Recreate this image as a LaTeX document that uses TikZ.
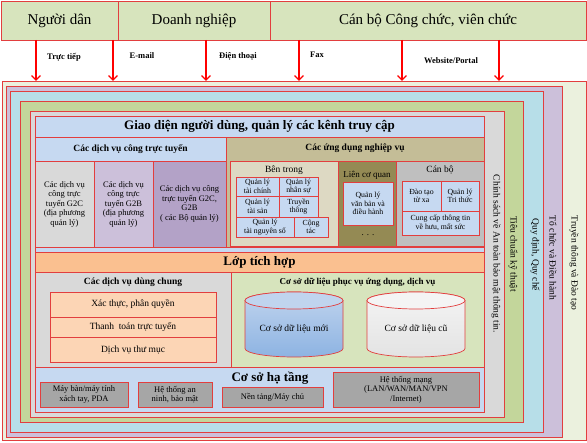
\documentclass[tikz,border=0pt]{standalone}
\usepackage{fontspec}
\setmainfont{Liberation Serif}
\usepackage{tikz}
\usetikzlibrary{arrows.meta}

\definecolor{linered}{RGB}{226,62,62}
\definecolor{topgreen}{HTML}{D7E4BD}
\definecolor{cream}{HTML}{EBF1DE}
\definecolor{orgpurple}{HTML}{CCC0DA}
\definecolor{rulecyan}{HTML}{B7DEE8}
\definecolor{stdgreen}{HTML}{C3D69B}
\definecolor{secgray}{HTML}{D9D9D9}
\definecolor{uiblue}{HTML}{C6D9F1}
\definecolor{khaki}{HTML}{C4BD97}
\definecolor{beige}{HTML}{DDD9C3}
\definecolor{olive}{HTML}{948A54}
\definecolor{cbgray}{HTML}{BFBFBF}
\definecolor{intorange}{HTML}{FAC090}
\definecolor{peach}{HTML}{FCD5B5}
\definecolor{dbgreen}{HTML}{D7E4BD}
\definecolor{gbpurple}{HTML}{B3A2C7}
\definecolor{infgray}{HTML}{A6A6A6}
\definecolor{dbnew}{HTML}{8DB3E2}
\definecolor{dbnewtop}{HTML}{C0D4EE}
\definecolor{dbold}{HTML}{E3E3E3}
\definecolor{dboldtop}{HTML}{F4F4F4}

\begin{document}
\begin{tikzpicture}[x=1pt,y=-1pt,
  box/.style={draw=linered, line width=0.7pt, anchor=north west, inner sep=0pt, outer sep=0pt, align=center},
  frame/.style={box, line width=0.9pt},
  side/.style={rotate=-90, inner sep=0pt, font=\fontsize{9.5}{11}\selectfont},
  ttl/.style={inner sep=0pt, font=\bfseries\fontsize{9.5}{11}\selectfont},
  sub/.style={inner sep=0pt, font=\fontsize{9.5}{11}\selectfont},
  small/.style={font=\fontsize{8.5}{9.5}\selectfont},
  tiny/.style={font=\fontsize{7.8}{8.6}\selectfont},
  big/.style={font=\bfseries\fontsize{13}{15}\selectfont},
  head/.style={font=\fontsize{15}{18}\selectfont},
  chan/.style={inner sep=0pt, font=\bfseries\fontsize{8.5}{10}\selectfont},
  arr/.style={draw=red, line width=1.3pt, -{Straight Barb[length=4.5pt,width=9pt]}},
]
\useasboundingbox (0,0) rectangle (587,443);

% actors
\node[box, head, fill=topgreen, minimum width=117, minimum height=39] (dan) at (1,1) {Người dân};
\node[box, head, fill=topgreen, minimum width=152, minimum height=39] (dn) at (118,1) {Doanh nghiệp};
\node[box, head, fill=topgreen, minimum width=316, minimum height=39] (cbcc) at (270,1) {Cán bộ Công chức, viên chức};

% nested frames
\node[frame, fill=cream, minimum width=584, minimum height=359] (fOuter) at (2,81) {};
\node[frame, fill=orgpurple, minimum width=556, minimum height=351] (fOrg) at (6,86) {};
\node[frame, fill=rulecyan, minimum width=533, minimum height=341] (fRule) at (10,91) {};
\node[frame, fill=stdgreen, minimum width=503, minimum height=321] (fStd) at (20,101) {};
\node[frame, fill=secgray, minimum width=474, minimum height=306] (fSec) at (30,111) {};
\node[frame, fill=uiblue, minimum width=449, minimum height=296] (core) at (35,116) {};

\node[side] (lTrain) at (574,263) {Truyền thông và Đào tạo};
\node[side] (lOrg) at (553,258) {Tổ chức và Điều hành};
\node[side] (lRule) at (535,255) {Quy định, Quy chế};
\node[side] (lStd) at (513,254) {Tiêu chuẩn kỹ thuật};
\node[side] (lSec) at (496,254) {Chính sách về An toàn bảo mật thông tin.};

% channels
\foreach \n/\x in {c1/36, c2/113, c3/206, c4/299, c5/402, c6/499} {
  \coordinate (\n) at (\x,40);
  \draw[arr] (\n) -- (\n |- fOuter.north);
}
\node[chan] (chDirect) at (64,57) {Trực tiếp};
\node[chan] (chMail) at (142,56) {E-mail};
\node[chan] (chPhone) at (238,56) {Điện thoại};
\node[chan] (chFax) at (317,55) {Fax};
\node[chan] (chWeb) at (451,61) {Website/Portal};

% user interface
\node[box, big, fill=uiblue, minimum width=449, minimum height=21] (ui) at (35,116) {Giao diện người dùng, quản lý các kênh truy cập};
\node[box, ttl, fill=uiblue, minimum width=191, minimum height=24] (dvc) at (35,137) {Các dịch vụ công trực tuyến};
\node[box, small, fill=secgray, minimum width=59, minimum height=86] (g2c) at (35,161) {Các dịch vụ\\công trực\\tuyến G2C\\(địa phương\\quản lý)};
\node[box, small, fill=orgpurple, minimum width=59, minimum height=86] (g2b) at (94,161) {Các dịch vụ\\công trực\\tuyến G2B\\(địa phương\\quản lý)};
\node[box, small, fill=gbpurple, minimum width=73, minimum height=86] (g2cb) at (153,161) {Các dịch vụ công\\trực tuyến G2C,\\G2B\\( các Bộ quản lý)};

% business applications
\node[box, fill=khaki, minimum width=258, minimum height=110] (app) at (226,137) {};
\node[ttl] (appT) at ([yshift=-11pt]app.north) {Các ứng dụng nghiệp vụ};
\node[box, fill=beige, minimum width=108, minimum height=85] (inside) at (230,161) {};
\node[sub] (insideT) at ([yshift=-9pt]inside.north) {Bên trong};
\node[box, tiny, fill=uiblue, minimum width=43, minimum height=19] (qlTc) at (236,177) {Quản lý\\tài chính};
\node[box, tiny, fill=uiblue, minimum width=39, minimum height=19] (qlNs) at (279,177) {Quản lý\\nhân sự};
\node[box, tiny, fill=uiblue, minimum width=43, minimum height=21] (qlTs) at (236,196) {Quản lý\\tài sản};
\node[box, tiny, fill=uiblue, minimum width=39, minimum height=21] (media) at (279,196) {Truyền\\thông};
\node[box, tiny, fill=uiblue, minimum width=58, minimum height=20] (qlTn) at (236,217) {Quản lý\\tài nguyên số};
\node[box, tiny, fill=uiblue, minimum width=34, minimum height=20] (coop) at (294,217) {Cộng\\tác};

\node[box, fill=olive, minimum width=58, minimum height=85] (inter) at (338,161) {};
\node[sub, font=\fontsize{9}{11}\selectfont] (interT) at ([yshift=-14pt]inter.north) {Liên cơ quan};
\node[box, tiny, fill=uiblue, minimum width=50, minimum height=43] (docs) at (343,182) {Quản lý\\văn bản và\\điều hành};
\node[inner sep=0pt, font=\fontsize{9}{11}\selectfont] (more) at ([yshift=-10pt]docs.south) {. . .};

\node[box, fill=cbgray, minimum width=88, minimum height=85] (staff) at (396,161) {};
\node[sub] (staffT) at ([yshift=-9pt]staff.north) {Cán bộ};
\node[box, tiny, fill=uiblue, minimum width=39, minimum height=30] (elearn) at (402,181) {Đào tạo\\từ xa};
\node[box, tiny, fill=uiblue, minimum width=38, minimum height=30] (know) at (441,181) {Quản lý\\Tri thức};
\node[box, tiny, fill=uiblue, minimum width=77, minimum height=24] (pension) at (402,211) {Cung cấp thông tin\\về hưu, mất sức};

% integration
\node[box, big, fill=intorange, minimum width=449, minimum height=20] (integ) at (35,252) {Lớp tích hợp};

% shared services
\node[box, fill=secgray, minimum width=196, minimum height=95] (shared) at (35,272) {};
\node[ttl] (sharedT) at ([yshift=-10pt]shared.north) {Các dịch vụ dùng chung};
\node[box, sub, fill=peach, minimum width=166, minimum height=25] (auth) at (50,292) {Xác thực, phân quyền};
\node[box, sub, fill=peach, minimum width=166, minimum height=20] (pay) at (50,317) {Thanh\ \ toán trực tuyến};
\node[box, sub, fill=peach, minimum width=166, minimum height=25] (dir) at (50,337) {Dịch vụ thư mục};

% databases
\node[box, fill=dbgreen, minimum width=253, minimum height=95] (data) at (231,272) {};
\node[ttl, font=\bfseries\fontsize{9}{11}\selectfont] (dataT) at ([yshift=-10pt]data.north) {Cơ sở dữ liệu phục vụ ứng dụng, dịch vụ};
\shade[top color=dbnewtop, bottom color=dbnew, draw=linered, line width=0.7pt]
  (245,300.5) -- (245,348.5) arc[start angle=180, end angle=0, x radius=49, y radius=8.5]
  -- (343,300.5) arc[start angle=0, end angle=-180, x radius=49, y radius=8.5] -- cycle;
\filldraw[fill=dbnewtop, draw=linered, line width=0.7pt] (294,300.5) ellipse[x radius=49, y radius=8.5];
\shade[top color=dboldtop, bottom color=dbold, draw=linered, line width=0.7pt]
  (367,300.5) -- (367,348.5) arc[start angle=180, end angle=0, x radius=49, y radius=8.5]
  -- (465,300.5) arc[start angle=0, end angle=-180, x radius=49, y radius=8.5] -- cycle;
\filldraw[fill=dboldtop, draw=linered, line width=0.7pt] (416,300.5) ellipse[x radius=49, y radius=8.5];
\node[sub] (dbNew) at (294,329) {Cơ sở dữ liệu mới};
\node[sub] (dbOld) at (416,329) {Cơ sở dữ liệu cũ};

% infrastructure
\node[big, inner sep=0pt] (infraT) at (270,378) {Cơ sở hạ tầng};
\node[box, small, fill=infgray, minimum width=88, minimum height=25] (device) at (40,382) {Máy bàn/máy tính\\xách tay, PDA};
\node[box, small, fill=infgray, minimum width=74, minimum height=25] (secsys) at (138,382) {Hệ thống an\\ninh, bảo mật};
\node[box, small, fill=infgray, minimum width=101, minimum height=20] (server) at (222,387) {Nền tảng/Máy chủ};
\node[box, small, fill=infgray, minimum width=146, minimum height=35] (net) at (333,372) {Hệ thống mạng\\(LAN/WAN/MAN/VPN\\/Internet)};
\end{tikzpicture}
\end{document}
